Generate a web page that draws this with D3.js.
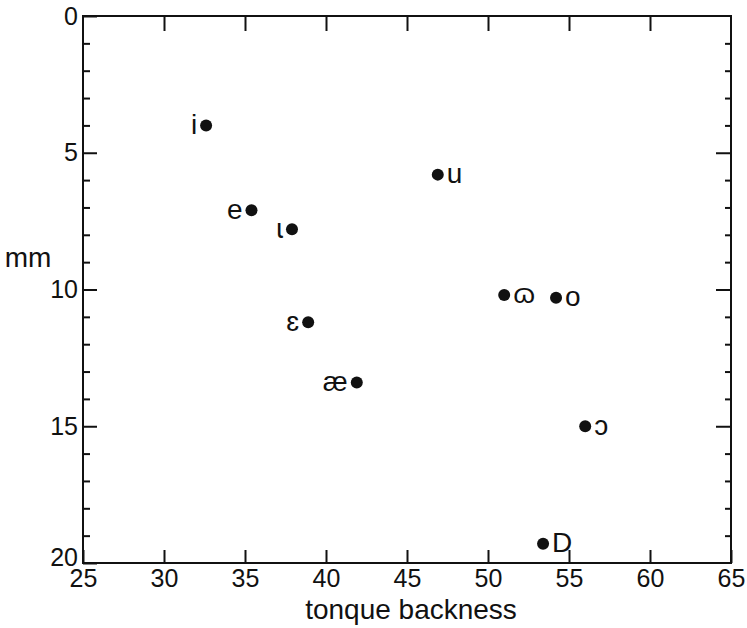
<!DOCTYPE html>
<html>
<head>
<meta charset="utf-8">
<script src="https://cdn.jsdelivr.net/npm/d3@7"></script>
<style>
  body { margin: 0; background: #fff; }
  svg { display: block; }
  text { font-family: "Liberation Sans", "DejaVu Sans", sans-serif; fill: #111; }
</style>
</head>
<body>
<svg id="chart" width="747" height="628"></svg>
<script>
// Data
const vowels = ["i", "e", "ɩ", "u", "ɛ", "æ", "ɷ", "o", "ɔ", "D"];
const backness = [32.6, 35.4, 37.9, 46.9, 38.9, 41.9, 51.0, 54.2, 56.0, 53.4];
const height = [4.0, 7.1, 7.8, 5.8, 11.2, 13.4, 10.2, 10.3, 15.0, 19.3];
const labelSide = ["left", "left", "left", "right", "left", "left", "right", "right", "right", "right"];
const xTicks = [25, 30, 35, 40, 45, 50, 55, 60, 65];
const yTicks = [0, 5, 10, 15, 20];
const xLabel = "tonque backness";
const yLabel = "mm";

const svg = d3.select("#chart");
const L = 83, R = 731, T = 16, B = 563;

const x = d3.scaleLinear().domain([25, 65]).range([L, R]);
const y = d3.scaleLinear().domain([0, 20]).range([T, B]);

// Frame
svg.append("rect")
  .attr("x", L).attr("y", T).attr("width", R - L).attr("height", B - T)
  .attr("fill", "none").attr("stroke", "#111").attr("stroke-width", 2);

const minorY = d3.range(0, 21, 1);

const gB = svg.append("g").attr("transform", `translate(0,${B})`)
  .call(d3.axisBottom(x).tickValues(xTicks).tickSizeInner(-13).tickSizeOuter(0).tickPadding(20));
const gT = svg.append("g").attr("transform", `translate(0,${T})`)
  .call(d3.axisTop(x).tickValues(xTicks.slice(1, -1)).tickSizeInner(-15).tickSizeOuter(0).tickFormat(""));
const gL = svg.append("g").attr("transform", `translate(${L},0)`)
  .call(d3.axisLeft(y).tickValues(yTicks).tickSizeInner(-14).tickSizeOuter(0).tickPadding(20));
const gLm = svg.append("g").attr("transform", `translate(${L},0)`)
  .call(d3.axisLeft(y).tickValues(minorY.filter(v => v % 5 !== 0)).tickSizeInner(-7).tickSizeOuter(0).tickFormat(""));
const gR = svg.append("g").attr("transform", `translate(${R},0)`)
  .call(d3.axisRight(y).tickValues(yTicks.slice(1, -1)).tickSizeInner(-15).tickSizeOuter(0).tickFormat(""));
const gRm = svg.append("g").attr("transform", `translate(${R},0)`)
  .call(d3.axisRight(y).tickValues(minorY.filter(v => v % 5 !== 0)).tickSizeInner(-6).tickSizeOuter(0).tickFormat(""));

[gB, gT, gL, gLm, gR, gRm].forEach(g => {
  g.select(".domain").remove();
  g.selectAll(".tick line").attr("stroke", "#111").attr("stroke-width", 2);
  g.selectAll(".tick text").style("font-size", "25px").attr("fill", "#111");
});
gB.selectAll(".tick text").attr("dy", "0.71em").attr("y", 6);
gL.selectAll(".tick text").attr("x", -5)
  .attr("dy", d => d === 20 ? "0.1em" : "0.32em");

// Axis titles
svg.append("text").attr("x", (L + R) / 2 + 4).attr("y", 619)
  .attr("text-anchor", "middle").style("font-size", "28px").text(xLabel);
svg.append("text").attr("x", 28).attr("y", 267)
  .attr("text-anchor", "middle").style("font-size", "28px").text(yLabel);

// Points
const pts = vowels.map((v, i) => ({ v, bx: backness[i], h: height[i], side: labelSide[i] }));
svg.append("g").selectAll("circle").data(pts).join("circle")
  .attr("cx", d => x(d.bx)).attr("cy", d => y(d.h)).attr("r", 6).attr("fill", "#111");
svg.append("g").selectAll("text").data(pts).join("text")
  .attr("x", d => d.side === "left" ? x(d.bx) - 9 : x(d.bx) + 9)
  .attr("y", d => y(d.h))
  .attr("dy", "0.3em")
  .attr("text-anchor", d => d.side === "left" ? "end" : "start")
  .style("font-size", "28px")
  .text(d => d.v);
</script>
</body>
</html>
